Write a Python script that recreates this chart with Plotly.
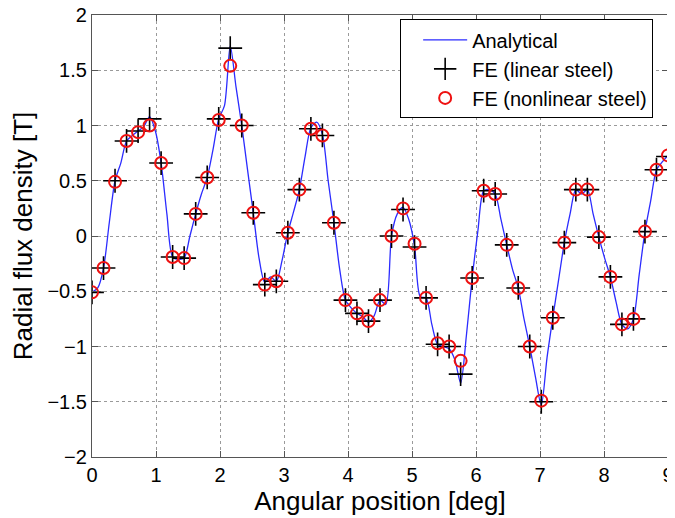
import numpy as np
import plotly.graph_objects as go

# FE sample positions (deg)
fe_x = [round(0.18 * i, 2) for i in range(51)]

fe_linear = [-0.51, -0.29, 0.50, 0.86, 0.95, 1.06, 0.66, -0.19, -0.20, 0.20,
             0.53, 1.06, 1.70, 1.00, 0.21, -0.44, -0.41, 0.03, 0.42, 0.97,
             0.91, 0.12, -0.58, -0.70, -0.77, -0.58, 0.00, 0.24, -0.10, -0.56,
             -0.98, -1.00, -1.25, -0.38, 0.41, 0.38, -0.08, -0.47, -1.00, -1.50,
             -0.74, -0.06, 0.42, 0.42, -0.01, -0.37, -0.80, -0.75, 0.04, 0.60,
             0.72]

fe_nonlinear = [-0.51, -0.29, 0.49, 0.86, 0.94, 1.00, 0.66, -0.19, -0.20, 0.20,
                0.53, 1.05, 1.54, 1.00, 0.21, -0.44, -0.41, 0.03, 0.42, 0.97,
                0.91, 0.12, -0.58, -0.70, -0.77, -0.58, 0.00, 0.25, -0.07, -0.56,
                -0.97, -1.00, -1.13, -0.38, 0.41, 0.38, -0.08, -0.47, -1.00, -1.49,
                -0.74, -0.06, 0.42, 0.42, -0.01, -0.37, -0.80, -0.75, 0.04, 0.60,
                0.73]

an_x = [round(0.09 * i, 2) for i in range(101)]
an_y = [-0.51, -0.47, -0.29, 0.12, 0.50, 0.66, 0.86, 0.91, 0.95, 0.99,
        1.08, 0.95, 0.66, 0.20, -0.19, -0.21, -0.20, 0.00, 0.20, 0.38,
        0.53, 0.78, 1.06, 1.18, 1.72, 1.35, 1.00, 0.60, 0.21, -0.20,
        -0.42, -0.37, -0.41, -0.22, 0.03, 0.22, 0.42, 0.72, 0.98, 1.03,
        0.92, 0.50, 0.12, -0.30, -0.58, -0.65, -0.70, -0.73, -0.78, -0.72,
        -0.58, -0.62, 0.00, 0.20, 0.26, 0.15, -0.09, -0.55, -0.56, -0.80,
        -0.98, -1.00, -1.02, -1.12, -1.33, -0.90, -0.38, 0.05, 0.41, 0.42,
        0.38, 0.15, -0.08, -0.30, -0.47, -0.75, -1.00, -1.28, -1.53, -1.10,
        -0.74, -0.40, -0.06, 0.20, 0.42, 0.38, 0.42, 0.20, -0.01, -0.20,
        -0.37, -0.60, -0.80, -0.84, -0.75, -0.35, 0.04, 0.32, 0.60, 0.67,
        0.73]

x_ticks = list(range(0, 10))
y_ticks = [-2, -1.5, -1, -0.5, 0, 0.5, 1, 1.5, 2]
y_tick_text = ["\u22122", "\u22121.5", "\u22121", "\u22120.5", "0", "0.5", "1", "1.5", "2"]

FONT = "Liberation Sans, Arial, sans-serif"

fig = go.Figure()
fig.add_trace(go.Scatter(x=an_x, y=an_y, mode="lines", name="Analytical",
                         line=dict(color="#2b2bff", width=1.3, shape="spline", smoothing=0.8)))
fig.add_trace(go.Scatter(x=fe_x, y=fe_linear, mode="markers", name="FE (linear steel)",
                         marker=dict(symbol="cross-thin", size=17, color="black",
                                     line=dict(color="black", width=1.6))))
fig.add_trace(go.Scatter(x=fe_x, y=fe_nonlinear, mode="markers", name="FE (nonlinear steel)",
                         marker=dict(symbol="circle-open", size=12, color="#ee1111",
                                     line=dict(color="#ee1111", width=2))))

axis_common = dict(showgrid=True, gridcolor="#9a9a9a", griddash="dot", gridwidth=1,
                   showline=True, linecolor="#555555", linewidth=1.2, mirror="ticks",
                   ticks="inside", ticklen=6, tickcolor="#555555", zeroline=False,
                   automargin=False, ticklabeloverflow="allow",
                   tickfont=dict(family=FONT, size=20, color="black"))

fig.update_xaxes(range=[0, 9], tickvals=x_ticks,
                 title=dict(text="Angular position [deg]", font=dict(family=FONT, size=26, color="black"),
                            standoff=0),
                 **axis_common)
fig.update_yaxes(range=[-2, 2], tickvals=y_ticks, ticktext=y_tick_text,
                 title=dict(text="Radial flux density [T]", font=dict(family=FONT, size=26, color="black"),
                            standoff=11),
                 **axis_common)

# page body has an 8px margin, so the figure is sized to fit the 675x518 window
fig.update_layout(
    width=667, height=510,
    margin=dict(l=84, r=7, t=7, b=61),
    paper_bgcolor="white", plot_bgcolor="white",
    showlegend=True,
    legend=dict(x=0.535, y=0.99, xanchor="left", yanchor="top",
                bgcolor="white", bordercolor="black", borderwidth=1,
                font=dict(family=FONT, size=20, color="black"),
                tracegroupgap=0, itemwidth=44, indentation=17),
    font=dict(family=FONT),
)

fig.write_html("out.html")
